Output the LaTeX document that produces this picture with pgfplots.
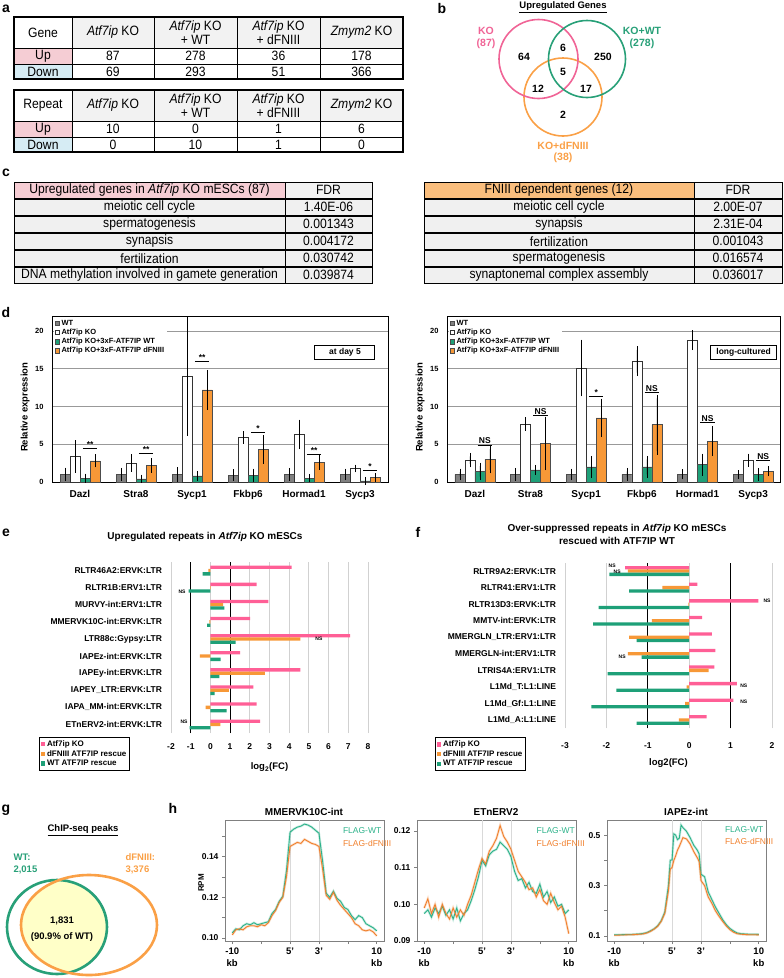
\documentclass[border=0pt]{standalone}
\usepackage{fontspec}
\setmainfont{Liberation Sans}
\newfontfamily\narrowfont[FakeStretch=0.9]{Liberation Sans}
\usepackage{pgfplots}
\usepackage{pgfplotstable}
\pgfplotsset{compat=1.18}

\definecolor{pinkc}{RGB}{255,95,150}
\definecolor{orangec}{RGB}{247,152,55}
\definecolor{greenc}{RGB}{30,160,120}
\definecolor{grayc}{RGB}{128,128,128}
\definecolor{vpink}{RGB}{240,100,150}
\definecolor{vgreen}{RGB}{40,160,120}
\definecolor{vorange}{RGB}{250,160,70}
\definecolor{upfill}{RGB}{245,205,212}
\definecolor{downfill}{RGB}{214,236,244}
\definecolor{hdrfill}{RGB}{242,242,242}
\definecolor{rowfill}{RGB}{240,240,240}
\definecolor{cpink}{RGB}{246,205,212}
\definecolor{corange}{RGB}{250,190,125}
\definecolor{hgreen}{RGB}{45,178,138}
\definecolor{horange}{RGB}{240,128,45}
\definecolor{gyellow}{RGB}{255,255,200}

\newcommand{\ta}{\narrowfont\fontsize{13.5}{14.5}\selectfont}
\newcommand{\cellc}[7]{%
 \filldraw[fill=#5,draw=black,line width=1pt] (#1,#2) rectangle (#3,#4);
 \node[align=center,font=#6,inner sep=0pt] at ({(#1+#3)/2},{(#2+#4)/2}) {#7};}
\newcommand{\sigm}[3]{%
 \draw[line width=1pt] (axis cs:#1-0.13,#2) -- (axis cs:#1+0.13,#2);
 \node[anchor=south,inner sep=0.8pt,font=\bfseries\fontsize{8.5}{9}\selectfont] at (axis cs:#1,#2) {#3};}
\newcommand{\nsl}[2]{\node[font=\bfseries\fontsize{5}{5}\selectfont,inner sep=0pt] at (axis cs:#1,#2) {NS};}

\pgfplotsset{
 dstyle/.style={anchor=south west, scale only axis, height=166pt, ybar, bar width=10pt,
  ymin=0, ymax=22, xmin=0.5, xmax=6.5,
  xtick={1,...,6}, xticklabels={Dazl,Stra8,Sycp1,Fkbp6,Hormad1,Sycp3},
  ytick={0,5,10,15,20}, yticklabels={0,5,10,15,20},
  ymajorgrids, grid style={black!40, line width=0.7pt},
  major tick length=0pt, axis line style={line width=1pt},
  yticklabel style={font=\bfseries\fontsize{7.5}{9}\selectfont, xshift=-5pt},
  xticklabel style={font=\bfseries\fontsize{10}{12}\selectfont, yshift=-5pt},
  ylabel={Relative expression},
  ylabel style={font=\bfseries\fontsize{9.5}{11}\selectfont, at={(axis description cs:-0.08,0.45)}, anchor=center},
  legend style={at={(0.004,0.996)}, anchor=north west, draw=none, fill=white,
   font=\bfseries\fontsize{7.5}{8}\selectfont, row sep=-1.8pt, inner sep=1.2pt},
  legend cell align=left,
  legend image code/.code={\draw[#1, line width=0.4pt] (0pt,-2.2pt) rectangle (4.4pt,2.2pt);},
  clip=false},
 errs/.style={error bars/.cd, y dir=both, y explicit,
  error bar style={line width=0.6pt,black},
  error mark options={line width=0.6pt,black,mark size=3.5pt}},
 estyle/.style={anchor=south west, scale only axis, xbar, bar width=3.3pt,
  ymin=-0.5, ymax=9.5, ytick={0,...,9},
  xmajorgrids, grid style={black!18, line width=0.9pt},
  axis line style={draw=none}, major tick length=0pt,
  tick label style={font=\bfseries\fontsize{8.5}{10}\selectfont},
  xticklabel style={yshift=-7pt}, yticklabel style={xshift=-5.5pt},
  legend style={draw=black, line width=0.8pt, fill=white,
   font=\bfseries\fontsize{8}{9}\selectfont, row sep=-1.5pt, inner sep=1.2pt},
  legend cell align=left,
  legend image code/.code={\fill[#1] (0pt,-2.2pt) rectangle (4.4pt,2.2pt);},
  xlabel style={font=\bfseries\fontsize{9.5}{11}\selectfont, anchor=center},
  clip=false},
 hstyle/.style={anchor=south west, scale only axis, width=159pt, height=121pt,
  xmin=-11, xmax=11, xtick={-10,-6,-2,2,6,10},
  xticklabels={{-10\\kb},,5',3',,{10\\kb}},
  xticklabel style={align=center, font=\bfseries\fontsize{9.5}{12.5}\selectfont},
  yticklabel style={font=\bfseries\fontsize{8.5}{9}\selectfont},
  axis line style={black!50, line width=0.6pt},
  tick style={black!50, line width=0.6pt}, major tick length=3pt, tick align=outside,
  xtick pos=left, ytick pos=left, clip mode=individual},
}

\pgfplotstableread{
x wt df
-10 0.1025 0.1015
-9.5 0.1045 0.1040
-9 0.1040 0.1045
-8.5 0.1060 0.1040
-8 0.1070 0.1055
-7.5 0.1065 0.1060
-7 0.1075 0.1060
-6.5 0.1065 0.1055
-6 0.1070 0.1065
-5.5 0.1075 0.1060
-5 0.1080 0.1075
-4.5 0.1120 0.1110
-4 0.1140 0.1135
-3.5 0.1180 0.1175
-3 0.1205 0.1200
-2.5 0.1330 0.1300
-2 0.1520 0.1450
-1.5 0.1535 0.1460
-1 0.1545 0.1470
-0.5 0.1550 0.1465
0 0.1560 0.1485
0.5 0.1555 0.1475
1 0.1545 0.1465
1.5 0.1530 0.1460
2 0.1515 0.1450
2.5 0.1380 0.1340
3 0.1220 0.1210
3.5 0.1200 0.1190
4 0.1230 0.1225
4.5 0.1195 0.1185
5 0.1180 0.1160
5.5 0.1150 0.1140
6 0.1140 0.1120
6.5 0.1110 0.1100
7 0.1090 0.1070
7.5 0.1110 0.1060
8 0.1100 0.1040
8.5 0.1070 0.1035
9 0.1060 0.1040
9.5 0.1050 0.1030
10 0.1035 0.1010
}\hA
\pgfplotstableread{
x wt df
-10 0.0975 0.0990
-9.5 0.0985 0.1015
-9 0.0965 0.0975
-8.5 0.0990 0.1000
-8 0.0975 0.0965
-7.5 0.0995 0.1000
-7 0.0970 0.0975
-6.5 0.0985 0.0960
-6 0.0960 0.0990
-5.5 0.0990 0.0965
-5 0.0955 0.0985
-4.5 0.0975 0.0970
-4 0.0985 0.1000
-3.5 0.1010 0.1025
-3 0.1040 0.1060
-2.5 0.1075 0.1095
-2 0.1120 0.1125
-1.5 0.1105 0.1110
-1 0.1135 0.1145
-0.5 0.1145 0.1160
0 0.1150 0.1180
0.5 0.1170 0.1215
1 0.1160 0.1185
1.5 0.1150 0.1170
2 0.1130 0.1150
2.5 0.1090 0.1120
3 0.1065 0.1090
3.5 0.1070 0.1075
4 0.1045 0.1060
4.5 0.1060 0.1040
5 0.1035 0.1045
5.5 0.1030 0.1020
6 0.1055 0.1040
6.5 0.1020 0.1010
7 0.1035 0.1000
7.5 0.1005 0.1030
8 0.1020 0.1005
8.5 0.0995 0.0985
9 0.1000 0.0995
9.5 0.0975 0.0965
10 0.0985 0.0920
}\hB
\pgfplotstableread{
x wt df
-10 0.105 0.103
-9.5 0.105 0.103
-9 0.105 0.104
-8.5 0.106 0.104
-8 0.106 0.105
-7.5 0.106 0.105
-7 0.107 0.106
-6.5 0.108 0.107
-6 0.110 0.108
-5.5 0.113 0.112
-5 0.120 0.118
-4.5 0.128 0.127
-4 0.140 0.138
-3.5 0.160 0.158
-3 0.195 0.190
-2.5 0.300 0.280
-2.25 0.400 0.365
-2 0.402 0.372
-1.75 0.505 0.400
-1.5 0.500 0.418
-1.25 0.482 0.440
-1 0.488 0.455
-0.75 0.540 0.472
-0.5 0.530 0.490
0 0.515 0.485
0.5 0.490 0.465
1 0.460 0.435
1.5 0.440 0.410
1.75 0.425 0.395
2 0.345 0.320
2.5 0.335 0.300
3 0.275 0.255
3.5 0.245 0.230
4 0.215 0.200
4.5 0.190 0.178
5 0.165 0.158
5.5 0.145 0.140
6 0.130 0.125
6.5 0.120 0.115
7 0.112 0.109
7.5 0.109 0.107
8 0.108 0.106
8.5 0.107 0.105
9 0.107 0.105
9.5 0.107 0.105
10 0.106 0.104
}\hC

\begin{document}
\begin{tikzpicture}
\useasboundingbox (0,0) rectangle (784pt,-978pt);
\begin{scope}[x=1pt,y=-1pt]
% panel letters
\begin{scope}[every node/.style={font=\bfseries\fontsize{14}{14}\selectfont}]
\node at (6,9) {a}; \node at (442,8) {b}; \node at (6,173) {c}; \node at (6,312) {d};
\node at (6,533) {e}; \node at (418,532) {f}; \node at (6,810) {g}; \node at (173,808) {h};
\end{scope}
% ---- table a1
\cellc{14}{17}{72}{48}{white}{\ta}{Gene}
\cellc{72}{17}{154}{48}{hdrfill}{\ta}{\textit{Atf7ip} KO}
\cellc{154}{17}{237}{48}{hdrfill}{\ta}{\textit{Atf7ip} KO\\+ WT}
\cellc{237}{17}{320}{48}{hdrfill}{\ta}{\textit{Atf7ip} KO\\+ dFNIII}
\cellc{320}{17}{403}{48}{hdrfill}{\ta}{\textit{Zmym2} KO}
\cellc{14}{48}{72}{64}{upfill}{\ta}{Up}
\cellc{72}{48}{154}{64}{white}{\ta}{87}
\cellc{154}{48}{237}{64}{white}{\ta}{278}
\cellc{237}{48}{320}{64}{white}{\ta}{36}
\cellc{320}{48}{403}{64}{white}{\ta}{178}
\cellc{14}{64}{72}{79}{downfill}{\ta}{Down}
\cellc{72}{64}{154}{79}{white}{\ta}{69}
\cellc{154}{64}{237}{79}{white}{\ta}{293}
\cellc{237}{64}{320}{79}{white}{\ta}{51}
\cellc{320}{64}{403}{79}{white}{\ta}{366}
\draw[line width=1.8pt] (14,17) rectangle (403,79);
% ---- table a2
\cellc{14}{90}{72}{121}{white}{\ta}{Repeat}
\cellc{72}{90}{154}{121}{hdrfill}{\ta}{\textit{Atf7ip} KO}
\cellc{154}{90}{237}{121}{hdrfill}{\ta}{\textit{Atf7ip} KO\\+ WT}
\cellc{237}{90}{320}{121}{hdrfill}{\ta}{\textit{Atf7ip} KO\\+ dFNIII}
\cellc{320}{90}{403}{121}{hdrfill}{\ta}{\textit{Zmym2} KO}
\cellc{14}{121}{72}{137}{upfill}{\ta}{Up}
\cellc{72}{121}{154}{137}{white}{\ta}{10}
\cellc{154}{121}{237}{137}{white}{\ta}{0}
\cellc{237}{121}{320}{137}{white}{\ta}{1}
\cellc{320}{121}{403}{137}{white}{\ta}{6}
\cellc{14}{137}{72}{152}{downfill}{\ta}{Down}
\cellc{72}{137}{154}{152}{white}{\ta}{0}
\cellc{154}{137}{237}{152}{white}{\ta}{10}
\cellc{237}{137}{320}{152}{white}{\ta}{1}
\cellc{320}{137}{403}{152}{white}{\ta}{0}
\draw[line width=1.8pt] (14,90) rectangle (403,152);
% ---- Venn b
\node[font=\bfseries\fontsize{9.5}{10}\selectfont] at (563,7) {\underline{Upregulated Genes}};
\draw[vorange,line width=1.6pt] (563,97) circle (39);
\draw[vpink,line width=1.6pt] (538.5,59) circle (39.5);
\draw[vgreen,line width=1.6pt] (587,59) circle (38.5);
\begin{scope}[every node/.style={font=\bfseries\fontsize{10.5}{12}\selectfont}]
\node[text=vpink] at (486,31) {KO}; \node[text=vpink] at (486,44) {(87)};
\node[text=vgreen] at (642,31) {KO+WT}; \node[text=vgreen] at (642,44) {(278)};
\node[text=vorange] at (563,146) {KO+dFNIII}; \node[text=vorange] at (563,158) {(38)};
\node at (524,57) {64}; \node at (563,48) {6}; \node at (603,57) {250};
\node at (563,72) {5}; \node at (538,89) {12}; \node at (586,89) {17}; \node at (563,115) {2};
\end{scope}
% ---- tables c
\cellc{14}{182}{285}{198}{cpink}{\ta}{Upregulated genes in \textit{Atf7ip} KO mESCs (87)}
\cellc{285}{182}{372}{198}{hdrfill}{\ta}{FDR}
\cellc{14}{199.5}{285}{215}{rowfill}{\ta}{meiotic cell cycle}
\cellc{285}{199.5}{372}{215}{rowfill}{\ta}{1.40E-06}
\cellc{14}{216.5}{285}{232}{rowfill}{\ta}{spermatogenesis}
\cellc{285}{216.5}{372}{232}{rowfill}{\ta}{0.001343}
\cellc{14}{233.5}{285}{249}{rowfill}{\ta}{synapsis}
\cellc{285}{233.5}{372}{249}{rowfill}{\ta}{0.004172}
\cellc{14}{250.5}{285}{266}{rowfill}{\ta}{fertilization}
\cellc{285}{250.5}{372}{266}{rowfill}{\ta}{0.030742}
\cellc{14}{267.5}{285}{283}{rowfill}{\ta}{DNA methylation involved in gamete generation}
\cellc{285}{267.5}{372}{283}{rowfill}{\ta}{0.039874}
\cellc{424}{182}{694}{198}{corange}{\ta}{FNIII dependent genes (12)}
\cellc{694}{182}{782}{198}{hdrfill}{\ta}{FDR}
\cellc{424}{199.5}{694}{215}{rowfill}{\ta}{meiotic cell cycle}
\cellc{694}{199.5}{782}{215}{rowfill}{\ta}{2.00E-07}
\cellc{424}{216.5}{694}{232}{rowfill}{\ta}{synapsis}
\cellc{694}{216.5}{782}{232}{rowfill}{\ta}{2.31E-04}
\cellc{424}{233.5}{694}{249}{rowfill}{\ta}{fertilization}
\cellc{694}{233.5}{782}{249}{rowfill}{\ta}{0.001043}
\cellc{424}{250.5}{694}{266}{rowfill}{\ta}{spermatogenesis}
\cellc{694}{250.5}{782}{266}{rowfill}{\ta}{0.016574}
\cellc{424}{267.5}{694}{283}{rowfill}{\ta}{synaptonemal complex assembly}
\cellc{694}{267.5}{782}{283}{rowfill}{\ta}{0.036017}
% ---- titles e f
\node[font=\bfseries\fontsize{10}{12}\selectfont] at (205,537) {Upregulated repeats in \textit{Atf7ip} KO mESCs};
\node[align=center,font=\bfseries\fontsize{10}{13}\selectfont] at (617,534.5) {Over-suppressed repeats in \textit{Atf7ip} KO mESCs\\rescued with ATF7IP WT};
% ---- g
\node[font=\bfseries\fontsize{9.5}{10}\selectfont] at (83,830) {\underline{ChIP-seq peaks}};
\begin{scope}
\clip (57,927) ellipse (50 and 47);
\fill[gyellow] (89,925) ellipse (68 and 50);
\end{scope}
\draw[vgreen,line width=2.6pt] (57,927) ellipse (50 and 47);
\draw[vorange,line width=2.6pt] (89,925) ellipse (68 and 50);
\begin{scope}[every node/.style={font=\bfseries\fontsize{9.5}{11}\selectfont}]
\node[text=vgreen,anchor=west] at (10,857) {WT:};
\node[text=vgreen,anchor=west] at (10,870) {2,015};
\node[text=vorange,anchor=west] at (122,857) {dFNIII:};
\node[text=vorange,anchor=west] at (122,870) {3,376};
\node at (62,921) {1,831};
\node at (62,937) {(90.9\% of WT)};
\end{scope}
% ---- h titles
\begin{scope}[every node/.style={font=\bfseries\fontsize{10}{12}\selectfont}]
\node at (304,812) {MMERVK10C-int};
\node at (496,812) {ETnERV2};
\node at (686,812) {IAPEz-int};
\end{scope}
\node[rotate=90,font=\bfseries\fontsize{8}{8}\selectfont] at (201,883) {RPM};
\end{scope}

% ================= d left
\begin{axis}[dstyle, at={(52pt,-482pt)}, width=336pt]
\addplot[fill=grayc, draw=black!70, line width=0.5pt, bar shift=-15pt, errs] coordinates {
(1,1.0)+-(0,0.45) (2,1.0)+-(0,0.4) (3,1.0)+-(0,0.5) (4,0.9)+-(0,0.3) (5,1.0)+-(0,0.4) (6,1.0)+-(0,0.3)};
\addplot[fill=white, draw=black!80, line width=0.5pt, bar shift=-5pt, errs] coordinates {
(1,3.4)+-(0,1.7) (2,2.5)+-(0,0.7) (3,14.0)+-(0,7.4) (4,5.9)+-(0,0.35) (5,6.3)+-(0,1.5) (6,1.8)+-(0,0.05)};
\addplot[fill=greenc, draw=black!70, line width=0.5pt, bar shift=5pt, errs] coordinates {
(1,0.5)+-(0,0.15) (2,0.4)+-(0,0.1) (3,0.8)+-(0,0.2) (4,0.9)+-(0,0.4) (5,0.5)+-(0,0.1) (6,0.15)+-(0,0.05)};
\addplot[fill=orangec, draw=black!70, line width=0.5pt, bar shift=15pt, errs] coordinates {
(1,2.8)+-(0,0.4) (2,2.2)+-(0,0.5) (3,12.2)+-(0,2.2) (4,4.3)+-(0,1.4) (5,2.6)+-(0,0.5) (6,0.6)+-(0,0.1)};
\legend{WT, Atf7ip KO, Atf7ip KO+3xF-ATF7IP WT, Atf7ip KO+3xF-ATF7IP dFNIII}
\sigm{1.18}{4.5}{**} \sigm{2.18}{3.8}{**} \sigm{3.18}{16.0}{**}
\sigm{4.18}{6.6}{*} \sigm{5.18}{3.7}{**} \sigm{6.18}{1.5}{*}
\node[draw, line width=1pt, fill=white, font=\bfseries\fontsize{8.5}{10}\selectfont, minimum width=60pt, minimum height=14pt, inner sep=1pt] at (rel axis cs:0.872,0.783) {at day 5};
\end{axis}

% ================= d right
\begin{axis}[dstyle, at={(447pt,-482pt)}, width=334pt]
\addplot[fill=grayc, draw=black!70, line width=0.5pt, bar shift=-15pt, errs] coordinates {
(1,1.0)+-(0,0.3) (2,1.0)+-(0,0.4) (3,1.0)+-(0,0.3) (4,1.0)+-(0,0.4) (5,1.0)+-(0,0.2) (6,1.0)+-(0,0.1)};
\addplot[fill=white, draw=black!80, line width=0.5pt, bar shift=-5pt, errs] coordinates {
(1,2.9)+-(0,0.5) (2,7.7)+-(0,0.45) (3,15.1)+-(0,3.3) (4,16.0)+-(0,1.5) (5,18.8)+-(0,0.85) (6,2.9)+-(0,0.4)};
\addplot[fill=greenc, draw=black!70, line width=0.5pt, bar shift=5pt, errs] coordinates {
(1,1.4)+-(0,0.7) (2,1.6)+-(0,0.2) (3,2.0)+-(0,1.0) (4,2.0)+-(0,1.0) (5,2.3)+-(0,1.0) (6,1.0)+-(0,0.4)};
\addplot[fill=orangec, draw=black!70, line width=0.5pt, bar shift=15pt, errs] coordinates {
(1,3.0)+-(0,1.4) (2,5.1)+-(0,3.1) (3,8.5)+-(0,2.1) (4,7.6)+-(0,3.5) (5,5.4)+-(0,1.5) (6,1.4)+-(0,0.2)};
\legend{WT, Atf7ip KO, Atf7ip KO+3xF-ATF7IP WT, Atf7ip KO+3xF-ATF7IP dFNIII}
\sigm{1.18}{4.9}{NS} \sigm{2.18}{8.8}{NS} \sigm{3.18}{11.3}{*}
\sigm{4.18}{11.9}{NS} \sigm{5.18}{7.9}{NS} \sigm{6.18}{2.9}{NS}
\node[draw, line width=1pt, fill=white, font=\bfseries\fontsize{8.5}{10}\selectfont, minimum width=66pt, minimum height=14pt, inner sep=1pt] at (rel axis cs:0.888,0.783) {long-cultured};
\end{axis}

% ================= e
\begin{axis}[estyle, at={(171pt,-733pt)}, width=197pt, height=171pt,
 xmin=-2, xmax=8, xtick={-2,...,8}, xticklabels={-2,-1,0,1,2,3,4,5,6,7,8},
 yticklabels={ETnERV2-int:ERVK:LTR, IAPA\_MM-int:ERVK:LTR, IAPEY\_LTR:ERVK:LTR, IAPEy-int:ERVK:LTR, IAPEz-int:ERVK:LTR, LTR88c:Gypsy:LTR, MMERVK10C-int:ERVK:LTR, MURVY-int:ERV1:LTR, RLTR1B:ERV1:LTR, RLTR46A2:ERVK:LTR},
 legend style={at={(-0.67,-0.023)}, anchor=north west},
 xlabel={log\textsubscript{2}(FC)}, xlabel style={at={(axis description cs:0.5,-0.2)}}]
\draw[black,line width=1pt] (axis cs:-1,-0.5) -- (axis cs:-1,9.5);
\draw[black,line width=1pt] (axis cs:1,-0.5) -- (axis cs:1,9.5);
\addplot[fill=pinkc, draw=none, bar shift=3.3pt] coordinates {
(4.12,9) (2.35,8) (2.94,7) (2.02,6) (7.09,5) (1.51,4) (4.57,3) (2.18,2) (2.34,1) (2.52,0)};
\addplot[fill=orangec, draw=none, bar shift=0pt] coordinates {
(-0.10,9) (0.02,8) (0.64,7) (-0.05,6) (4.57,5) (-0.54,4) (2.77,3) (0.94,2) (-0.24,1) (0.50,0)};
\addplot[fill=greenc, draw=none, bar shift=-3.3pt] coordinates {
(-0.39,9) (-1.11,8) (0.71,7) (-0.17,6) (1.28,5) (0.52,4) (0.45,3) (0.22,2) (0.82,1) (-1.06,0)};
\legend{Atf7ip KO, dFNIII ATF7IP rescue, WT ATF7IP rescue}
\nsl{-1.44}{7.74} \nsl{-1.34}{0.15} \nsl{5.51}{5}
\end{axis}

% ================= f
\begin{axis}[estyle, at={(565pt,-728.3pt)}, width=207pt, height=165.5pt,
 xmin=-3, xmax=2, xtick={-3,...,2}, xticklabels={-3,-2,-1,0,1,2},
 xticklabel style={yshift=-4pt},
 yticklabels={L1Md\_A:L1:LINE, L1Md\_Gf:L1:LINE, L1Md\_T:L1:LINE, LTRIS4A:ERV1:LTR, MMERGLN-int:ERV1:LTR, MMERGLN\_LTR:ERV1:LTR, MMTV-int:ERVK:LTR, RLTR13D3:ERVK:LTR, RLTR41:ERV1:LTR, RLTR9A2:ERVK:LTR},
 legend style={at={(-0.628,-0.053)}, anchor=north west},
 xlabel={log2(FC)}, xlabel style={at={(axis description cs:0.5,-0.21)}}]
\draw[black,line width=1pt] (axis cs:-1,-0.5) -- (axis cs:-1,9.5);
\draw[black,line width=1pt] (axis cs:1,-0.5) -- (axis cs:1,9.5);
\addplot[fill=pinkc, draw=none, bar shift=3.3pt] coordinates {
(-1.55,9) (0.20,8) (1.67,7) (0.31,6) (0.55,5) (0.63,4) (0.61,3) (1.15,2) (1.07,1) (0.42,0)};
\addplot[fill=orangec, draw=none, bar shift=0pt] coordinates {
(-1.48,9) (-0.65,8) (-0.02,7) (-0.90,6) (-1.45,5) (-1.48,4) (0.47,3) (-0.06,2) (-0.10,1) (-0.25,0)};
\addplot[fill=greenc, draw=none, bar shift=-3.3pt] coordinates {
(-1.93,9) (-1.45,8) (-2.19,7) (-2.32,6) (-1.27,5) (-1.15,4) (-1.97,3) (-1.76,2) (-2.36,1) (-1.27,0)};
\legend{Atf7ip KO, dFNIII ATF7IP rescue, WT ATF7IP rescue}
\nsl{-1.86}{9.3} \nsl{-1.74}{8.94} \nsl{1.88}{7.18} \nsl{1.32}{2.06} \nsl{1.32}{1.12} \nsl{-1.62}{3.82}
\end{axis}

% ================= h1
\begin{axis}[hstyle, at={(225pt,-941pt)}, ymin=0.0985, ymax=0.158,
 ytick={0.10,0.11,0.12,0.13,0.14,0.15}, yticklabels={0.10,,0.12,,0.14,}]
\draw[black!15,line width=0.8pt] (axis cs:-2,0.0985) -- (axis cs:-2,0.158);
\draw[black!15,line width=0.8pt] (axis cs:2,0.0985) -- (axis cs:2,0.158);
\addplot[hgreen, line width=2.4pt, opacity=0.25] table[x=x,y=wt] {\hA};
\addplot[horange, line width=2.4pt, opacity=0.25] table[x=x,y=df] {\hA};
\addplot[hgreen, line width=0.9pt] table[x=x,y=wt] {\hA};
\addplot[horange, line width=0.9pt] table[x=x,y=df] {\hA};
\node[anchor=west, text=hgreen, font=\fontsize{8.5}{10}\selectfont] at (rel axis cs:0.72,0.91) {FLAG-WT};
\node[anchor=west, text=horange, font=\fontsize{8.5}{10}\selectfont] at (rel axis cs:0.72,0.81) {FLAG-dFNIII};
\end{axis}

% ================= h2
\begin{axis}[hstyle, at={(417pt,-941pt)}, ymin=0.09, ymax=0.123,
 ytick={0.09,0.10,0.11,0.12}, yticklabels={0.09,0.10,0.11,0.12}]
\draw[black!15,line width=0.8pt] (axis cs:-2,0.09) -- (axis cs:-2,0.123);
\draw[black!15,line width=0.8pt] (axis cs:2,0.09) -- (axis cs:2,0.123);
\addplot[hgreen, line width=2.4pt, opacity=0.25] table[x=x,y=wt] {\hB};
\addplot[horange, line width=2.4pt, opacity=0.25] table[x=x,y=df] {\hB};
\addplot[hgreen, line width=0.9pt] table[x=x,y=wt] {\hB};
\addplot[horange, line width=0.9pt] table[x=x,y=df] {\hB};
\node[anchor=west, text=hgreen, font=\fontsize{8.5}{10}\selectfont] at (rel axis cs:0.73,0.91) {FLAG-WT};
\node[anchor=west, text=horange, font=\fontsize{8.5}{10}\selectfont] at (rel axis cs:0.73,0.81) {FLAG-dFNIII};
\end{axis}

% ================= h3
\begin{axis}[hstyle, at={(607pt,-941pt)}, ymin=0.08, ymax=0.56,
 ytick={0.1,0.2,0.3,0.4,0.5}, yticklabels={0.1,,0.3,,0.5}]
\draw[black!15,line width=0.8pt] (axis cs:-2,0.08) -- (axis cs:-2,0.56);
\draw[black!15,line width=0.8pt] (axis cs:2,0.08) -- (axis cs:2,0.56);
\addplot[hgreen, line width=2.4pt, opacity=0.25] table[x=x,y=wt] {\hC};
\addplot[horange, line width=2.4pt, opacity=0.25] table[x=x,y=df] {\hC};
\addplot[hgreen, line width=0.9pt] table[x=x,y=wt] {\hC};
\addplot[horange, line width=0.9pt] table[x=x,y=df] {\hC};
\node[anchor=west, text=hgreen, font=\fontsize{8.5}{10}\selectfont] at (rel axis cs:0.72,0.92) {FLAG-WT};
\node[anchor=west, text=horange, font=\fontsize{8.5}{10}\selectfont] at (rel axis cs:0.72,0.82) {FLAG-dFNIII};
\end{axis}
\end{tikzpicture}
\end{document}
